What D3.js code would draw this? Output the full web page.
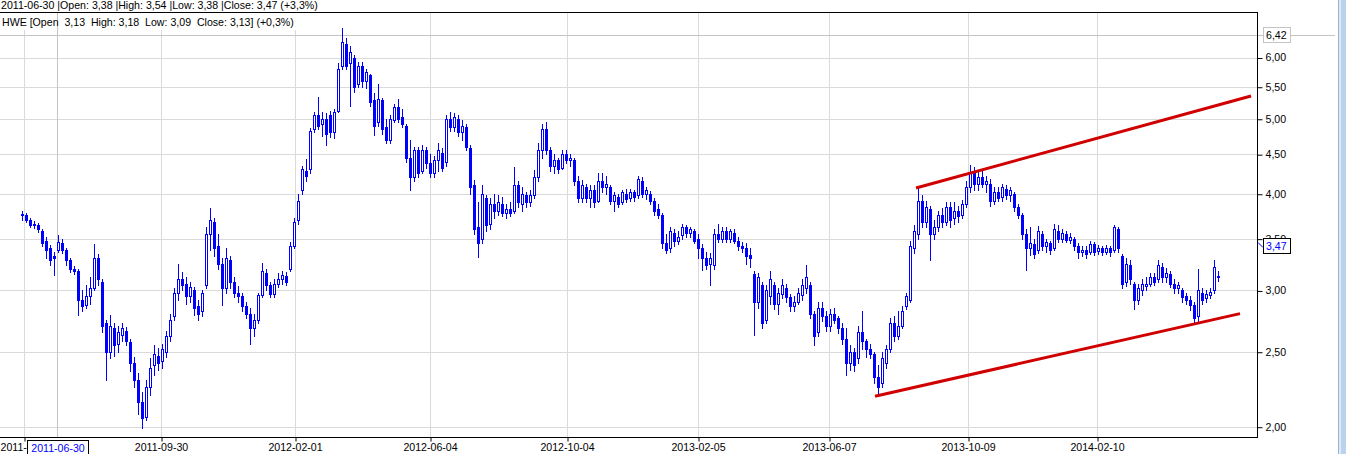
<!DOCTYPE html>
<html><head><meta charset="utf-8">
<script src="https://cdn.jsdelivr.net/npm/d3@7"></script>
<style>
html,body{margin:0;padding:0;background:#fff;overflow:hidden}
svg{display:block}
text{font-family:"Liberation Sans",Arial,sans-serif;font-size:10.6px}
</style>
</head><body><svg id="c" width="1346" height="454"></svg>
<script>
// ---- data (HWE, daily candles sampled) ----
const opens=[3.75,3.76,3.70,3.66,3.65,3.58,3.48,3.40,3.32,3.38,3.45,3.38,3.28,3.20,3.18,2.92,2.87,2.95,3.02,3.30,
3.08,2.72,2.50,2.68,2.56,2.63,2.66,2.57,2.42,2.30,2.15,2.06,2.25,2.40,2.47,2.43,2.50,2.62,2.78,2.98,
3.10,3.06,2.95,3.00,2.86,2.82,3.05,3.55,3.68,3.42,3.25,3.02,3.28,3.08,2.98,2.95,2.86,2.80,2.68,2.75,
2.96,3.16,3.05,2.97,3.06,3.10,3.13,3.20,3.42,3.70,4.05,4.28,4.30,4.85,5.05,4.92,5.00,5.05,4.80,5.12,
5.85,6.25,5.90,6.00,5.55,5.85,5.60,5.70,5.28,4.95,5.28,4.88,4.70,4.98,5.18,5.02,4.90,4.45,4.20,4.55,
4.28,4.55,4.38,4.25,4.42,4.52,4.40,5.00,4.88,5.00,4.80,4.88,4.58,4.10,3.62,3.50,3.95,3.66,3.88,3.80,
3.88,3.78,3.82,3.80,4.10,3.88,3.98,3.90,3.98,4.20,4.55,4.85,4.55,4.35,4.42,4.32,4.50,4.42,4.42,4.15,
3.95,4.08,3.95,4.05,3.92,4.15,4.08,4.08,3.92,3.96,3.90,4.00,3.95,4.02,3.98,4.15,4.00,4.00,3.92,3.82,
3.76,3.45,3.40,3.56,3.48,3.54,3.62,3.56,3.58,3.50,3.40,3.30,3.25,3.24,3.55,3.50,3.58,3.50,3.56,3.48,
3.42,3.40,3.33,3.15,2.90,3.05,2.75,2.95,3.05,2.88,2.97,3.02,2.94,2.86,2.90,2.96,3.02,3.05,2.80,2.65,
2.85,2.78,2.70,2.80,2.76,2.68,2.60,2.42,2.50,2.45,2.65,2.58,2.52,2.48,2.32,2.28,2.42,2.52,2.72,2.62,
2.70,2.86,2.92,3.40,3.55,3.92,3.68,3.82,3.55,3.62,3.75,3.68,3.84,3.72,3.80,3.76,3.88,4.08,4.25,4.12,
4.20,4.12,4.12,3.92,4.02,3.96,4.06,3.98,4.00,3.84,3.76,3.55,3.40,3.44,3.38,3.55,3.42,3.45,3.40,3.58,
3.50,3.55,3.49,3.50,3.42,3.36,3.38,3.36,3.44,3.37,3.40,3.36,3.40,3.38,3.60,3.32,3.08,3.24,3.06,2.92,
3.00,3.04,3.06,3.12,3.10,3.22,3.12,3.15,3.06,3.02,3.00,2.95,2.92,2.87,2.78,2.98,2.93,2.96,3.00,3.13];
const highs=[3.80,3.78,3.72,3.69,3.67,3.60,3.52,3.43,3.36,3.54,3.50,3.40,3.30,3.23,3.20,3.00,3.05,3.12,3.44,3.34,
3.10,2.75,2.79,2.72,2.70,2.72,2.69,2.60,2.46,2.35,2.22,2.30,2.45,2.55,2.53,2.56,2.66,2.80,3.02,3.25,
3.17,3.12,3.08,3.03,2.92,3.00,3.62,3.83,3.72,3.55,3.30,3.40,3.32,3.12,3.04,2.98,2.90,2.85,2.80,2.98,
3.26,3.20,3.08,3.10,3.16,3.18,3.17,3.46,3.72,4.00,4.35,4.43,4.86,5.10,5.33,5.10,5.08,5.12,5.15,5.90,
6.55,6.35,6.20,6.05,5.92,5.92,5.80,5.72,5.40,5.55,5.32,5.00,5.05,5.22,5.30,5.15,4.92,4.70,4.60,4.60,
4.62,4.60,4.50,4.48,4.65,4.58,5.05,5.10,5.08,5.05,4.98,4.92,4.62,4.17,3.90,4.10,3.98,3.95,4.00,3.98,
3.96,3.88,3.90,4.33,4.15,4.08,4.02,4.05,4.29,4.65,4.93,4.95,4.60,4.50,4.45,4.55,4.56,4.50,4.45,4.22,
4.17,4.12,4.10,4.10,4.25,4.25,4.22,4.10,4.02,4.00,4.05,4.06,4.06,4.05,4.22,4.20,4.08,4.03,3.95,3.88,
3.78,3.55,3.62,3.60,3.58,3.66,3.64,3.62,3.60,3.55,3.44,3.36,3.35,3.60,3.66,3.62,3.62,3.60,3.60,3.52,
3.47,3.45,3.40,3.18,3.16,3.08,3.05,3.18,3.08,3.02,3.10,3.06,2.97,2.95,3.02,3.10,3.24,3.08,2.82,2.90,
2.90,2.82,2.84,2.85,2.78,2.72,2.68,2.55,2.53,2.70,2.82,2.60,2.56,2.50,2.40,2.50,2.55,2.76,2.78,2.82,
2.86,2.98,3.48,3.65,4.08,3.98,3.92,3.86,3.70,3.80,3.83,3.90,3.90,3.90,3.86,3.93,4.15,4.36,4.33,4.27,
4.28,4.22,4.18,4.08,4.08,4.12,4.10,4.08,4.02,3.88,3.78,3.60,3.62,3.50,3.63,3.58,3.50,3.48,3.66,3.64,
3.60,3.58,3.56,3.52,3.45,3.42,3.42,3.48,3.46,3.43,3.42,3.43,3.42,3.64,3.62,3.34,3.30,3.28,3.08,3.06,
3.10,3.12,3.16,3.16,3.28,3.26,3.21,3.18,3.10,3.08,3.02,2.98,2.95,2.90,3.20,3.02,3.00,3.02,3.28,3.18];
const lows=[3.70,3.68,3.62,3.61,3.57,3.42,3.30,3.24,3.14,3.36,3.35,3.24,3.17,3.15,2.79,2.82,2.85,2.88,3.00,3.05,
2.65,2.30,2.45,2.47,2.50,2.58,2.55,2.36,2.25,2.08,1.99,2.04,2.20,2.33,2.37,2.38,2.46,2.58,2.75,2.92,
3.00,2.88,2.90,2.79,2.75,2.78,3.02,3.38,3.32,3.20,2.87,2.98,3.02,2.94,2.90,2.82,2.76,2.56,2.62,2.72,
2.94,3.00,2.94,2.94,3.03,3.06,3.05,3.18,3.40,3.66,4.00,4.15,4.25,4.80,4.85,4.75,4.62,4.74,4.72,5.10,
5.80,5.80,5.20,5.42,5.50,5.50,5.48,5.20,4.77,4.90,4.78,4.65,4.65,4.95,4.95,4.88,4.40,4.05,4.15,4.20,
4.25,4.32,4.20,4.20,4.28,4.28,4.35,4.82,4.82,4.75,4.70,4.55,4.00,3.55,3.31,3.45,3.58,3.60,3.72,3.75,
3.74,3.72,3.74,3.78,3.85,3.80,3.85,3.86,3.95,4.15,4.45,4.50,4.28,4.25,4.25,4.30,4.38,4.35,4.10,3.90,
3.90,3.90,3.85,3.85,3.90,4.02,4.00,3.88,3.80,3.85,3.88,3.90,3.92,3.92,3.95,3.96,3.94,3.88,3.76,3.72,
3.40,3.35,3.36,3.42,3.44,3.50,3.52,3.52,3.45,3.30,3.19,3.20,3.05,3.20,3.46,3.46,3.46,3.47,3.45,3.38,
3.36,3.25,3.22,2.63,2.85,2.68,2.72,2.88,2.84,2.80,2.93,2.90,2.82,2.82,2.88,2.92,2.98,2.76,2.55,2.62,
2.74,2.66,2.66,2.72,2.64,2.56,2.33,2.37,2.36,2.42,2.52,2.46,2.45,2.28,2.19,2.25,2.38,2.50,2.58,2.60,
2.68,2.84,2.90,3.35,3.50,3.62,3.62,3.28,3.50,3.58,3.62,3.64,3.62,3.66,3.68,3.72,3.85,4.02,4.05,4.05,
4.08,4.02,3.86,3.88,3.92,3.92,3.94,3.92,3.80,3.72,3.50,3.19,3.33,3.30,3.35,3.38,3.36,3.34,3.38,3.46,
3.46,3.46,3.45,3.38,3.30,3.32,3.30,3.34,3.33,3.34,3.33,3.34,3.32,3.36,3.36,3.02,3.04,3.06,2.84,2.88,
2.96,3.00,3.04,3.05,3.08,3.08,3.08,3.03,2.98,2.98,2.90,2.88,2.83,2.73,2.74,2.88,2.90,2.93,2.98,3.09];
const closes=[3.77,3.70,3.65,3.64,3.60,3.45,3.38,3.28,3.30,3.47,3.38,3.28,3.20,3.18,2.92,2.86,2.95,3.02,3.30,3.10,
2.70,2.50,2.70,2.55,2.65,2.68,2.58,2.42,2.30,2.15,2.05,2.25,2.38,2.48,2.42,2.52,2.62,2.75,2.98,3.10,
3.05,2.95,3.03,2.85,2.80,2.98,3.55,3.70,3.40,3.25,3.02,3.30,3.08,2.98,2.95,2.86,2.80,2.68,2.75,2.96,
3.18,3.05,2.97,3.06,3.10,3.14,3.08,3.42,3.68,3.92,4.30,4.22,4.82,5.05,4.90,5.00,4.78,4.80,5.10,5.80,
6.28,5.85,6.10,5.50,5.85,5.60,5.75,5.25,4.90,5.30,4.85,4.70,5.00,5.18,5.00,4.92,4.45,4.20,4.55,4.25,
4.55,4.38,4.25,4.42,4.55,4.32,5.00,4.88,5.02,4.80,4.90,4.60,4.08,3.60,3.45,4.00,3.65,3.88,3.80,3.90,
3.78,3.82,3.78,4.10,3.90,4.00,3.90,3.98,4.20,4.55,4.85,4.55,4.35,4.42,4.30,4.50,4.42,4.45,4.15,3.95,
4.10,3.95,4.05,3.90,4.15,4.08,4.12,3.92,3.98,3.88,4.02,3.94,4.02,3.96,4.18,4.00,4.04,3.92,3.80,3.76,
3.45,3.38,3.58,3.48,3.52,3.62,3.56,3.60,3.48,3.40,3.30,3.24,3.30,3.55,3.50,3.58,3.50,3.58,3.48,3.42,
3.40,3.32,3.30,2.90,3.12,2.72,3.00,3.10,2.88,2.98,3.05,2.94,2.86,2.90,2.98,3.05,3.12,2.80,2.62,2.85,
2.78,2.70,2.80,2.75,2.68,2.60,2.42,2.50,2.40,2.65,2.58,2.52,2.48,2.32,2.25,2.45,2.52,2.72,2.62,2.70,
2.82,2.95,3.42,3.58,3.92,3.68,3.85,3.55,3.62,3.75,3.68,3.85,3.70,3.80,3.74,3.88,4.08,4.25,4.12,4.20,
4.12,4.15,3.92,4.02,3.95,4.08,3.98,4.04,3.84,3.76,3.55,3.40,3.45,3.34,3.58,3.42,3.46,3.38,3.60,3.50,
3.56,3.49,3.52,3.42,3.36,3.38,3.34,3.44,3.36,3.40,3.36,3.40,3.36,3.62,3.40,3.06,3.25,3.10,2.92,3.02,
3.06,3.06,3.12,3.08,3.24,3.12,3.16,3.06,3.02,3.05,2.94,2.92,2.87,2.76,3.00,2.92,2.97,2.99,3.22,3.13];

const dateTickLabels=["2011-05-30","2011-09-30","2012-02-01","2012-06-04","2012-10-04","2013-02-05","2013-06-07","2013-10-09","2014-02-10"];
const dateTickIndex=[0.5,34.75,68.25,102,136.25,169,201.75,236.5,268.75];
const priceTicks=[2,2.5,3,3.5,4,4.5,5,5.5,6];
const upperTrend=[[223.5,4.07],[307.25,5.35]];
const lowerTrend=[[213.25,2.19],[304.5,2.80]];
const crossIndex=8.75, crossPrice=6.42, crossDate="2011-06-30", crossClose=3.47;
const headerTop="2011-06-30 |Open: 3,38 |High: 3,54 |Low: 3,38 |Close: 3,47 (+3,3%)";
const headerSeries="HWE [Open  3,13  High: 3,18  Low: 3,09  Close: 3,13] (+0,3%)";

// ---- drawing ----
const W=1346,H=454, R=1257, T=12, B=437;
const svg=d3.select("#c");
const x=d3.scaleLinear().domain([0,closes.length-1]).range([22,1218]);
const y=d3.scaleLog().domain([1.9396,6.870]).range([B,T]);
const fmt=v=>d3.format(".2f")(v).replace(".",",");
const px=v=>Math.round(v)+0.5;
const grid="#dadada";

svg.append("rect").attr("width",W).attr("height",H).attr("fill","#fff");

// horizontal grid
svg.append("g").selectAll("line").data(priceTicks).join("line")
  .attr("x1",0).attr("x2",R).attr("y1",d=>px(y(d))).attr("y2",d=>px(y(d)))
  .attr("stroke",grid);
// vertical grid
svg.append("g").selectAll("line").data(dateTickIndex).join("line")
  .attr("x1",d=>px(x(d))).attr("x2",d=>px(x(d))).attr("y1",T).attr("y2",B)
  .attr("stroke",grid);

// header series label background
svg.append("rect").attr("x",0).attr("y",T+1).attr("width",300).attr("height",17).attr("fill","#fff");

// crosshair
svg.append("line").attr("x1",px(x(crossIndex))).attr("x2",px(x(crossIndex))).attr("y1",T).attr("y2",B)
  .attr("stroke","#c4c4c4");
svg.append("line").attr("x1",0).attr("x2",1335).attr("y1",px(y(crossPrice))).attr("y2",px(y(crossPrice)))
  .attr("stroke","#c4c4c4");

// candles
const blue="#0000ff";
const idx=d3.range(closes.length);
const cg=svg.append("g");
cg.selectAll("line").data(idx).join("line")
  .attr("x1",i=>Math.round(x(i))+0.5).attr("x2",i=>Math.round(x(i))+0.5)
  .attr("y1",i=>Math.round(y(highs[i]))).attr("y2",i=>Math.round(y(lows[i]))+1)
  .attr("stroke",blue).attr("stroke-width",1);
cg.selectAll("rect").data(idx).join("rect")
  .each(function(i){
    const cx=Math.round(x(i));
    const top=Math.round(y(Math.max(opens[i],closes[i])));
    const bot=Math.round(y(Math.min(opens[i],closes[i])));
    const s=d3.select(this);
    if(closes[i]>=opens[i]){
      s.attr("x",cx-0.5).attr("y",top+0.5).attr("width",2).attr("height",Math.max(1,bot-top))
       .attr("fill","#fff").attr("stroke",blue).attr("stroke-width",1);
    } else {
      s.attr("x",cx-1).attr("y",top).attr("width",3).attr("height",Math.max(1,bot-top+1))
       .attr("fill",blue);
    }
  });

// trend lines
const line=d3.line().x(d=>x(d[0])).y(d=>y(d[1]));
[upperTrend,lowerTrend].forEach(t=>{
  svg.append("path").attr("d",line(t)).attr("fill","none").attr("stroke","#d00000").attr("stroke-width",3);
});

// frame
svg.append("line").attr("x1",0).attr("x2",R+0.5).attr("y1",T+0.5).attr("y2",T+0.5).attr("stroke","#000");
svg.append("line").attr("x1",0).attr("x2",R+0.5).attr("y1",B+0.5).attr("y2",B+0.5).attr("stroke","#000");

// right axis
const ya=svg.append("g").attr("transform",`translate(${R+0.5},0)`)
  .call(d3.axisRight(y).tickValues(priceTicks).tickFormat(fmt).tickSize(5).tickSizeOuter(0));
ya.select(".domain").attr("d",`M0,${T}V${B+1}`).attr("stroke","#000");
ya.selectAll(".tick line").attr("stroke","#000").attr("transform","translate(0,0.5)");
ya.selectAll("text").attr("fill","#000").attr("x",8)
  .style("font-family",'"Liberation Sans",Arial,sans-serif').style("font-size","10.6px");

// bottom axis
const xa=svg.append("g").attr("transform",`translate(0,${B+0.5})`)
  .call(d3.axisBottom(x).tickValues(dateTickIndex).tickFormat((d,i)=>dateTickLabels[i]).tickSize(4).tickSizeOuter(0));
xa.select(".domain").remove();
xa.selectAll(".tick line").attr("stroke","#000").attr("transform","translate(0.5,0)");
xa.selectAll("text").attr("fill","#000").attr("y",6)
  .style("font-family",'"Liberation Sans",Arial,sans-serif').style("font-size","10.6px");
xa.select(".tick text").attr("text-anchor","start").attr("x",-x(dateTickIndex[0]));

// crosshair date box
const dbx=px(x(crossIndex));
svg.append("rect").attr("x",27.5).attr("y",440.5).attr("width",61).attr("height",17)
  .attr("fill","#fff").attr("stroke","#000");
svg.append("text").attr("x",58).attr("y",451.5).attr("text-anchor","middle").attr("fill",blue).text(crossDate);

// crosshair price box
svg.append("rect").attr("x",1263.5).attr("y",px(y(crossPrice))-8).attr("width",27).attr("height",15)
  .attr("fill","#fff").attr("stroke","#c4c4c4");
svg.append("text").attr("x",1266).attr("y",y(crossPrice)+4).attr("fill","#000").text(fmt(crossPrice));

// last value box
const yc=y(crossClose);
svg.append("path").attr("d",`M${R+1},${Math.round(yc)+0.5}L${R+6},${Math.round(yc)+5.5}`).attr("stroke",blue).attr("fill","none");
svg.append("rect").attr("x",1263.5).attr("y",Math.round(yc)-3.5).attr("width",27).attr("height",15)
  .attr("fill","#fff").attr("stroke","#000");
svg.append("text").attr("x",1266).attr("y",Math.round(yc)+8).attr("fill",blue).text(fmt(crossClose));

// header
svg.append("text").attr("x",1).attr("y",9).attr("fill","#000").style("white-space","pre").text(headerTop);
svg.append("text").attr("x",2).attr("y",26).attr("fill","#000").style("white-space","pre").text(headerSeries);

// scrollbar strip
svg.append("rect").attr("x",1338).attr("y",0).attr("width",8).attr("height",H).attr("fill","#bdd3ec");
svg.append("rect").attr("x",1339).attr("y",0).attr("width",2).attr("height",H).attr("fill","#dce9f7");
svg.append("line").attr("x1",1338.5).attr("x2",1338.5).attr("y1",0).attr("y2",H).attr("stroke","#94b4d9");
</script>
</body></html>
